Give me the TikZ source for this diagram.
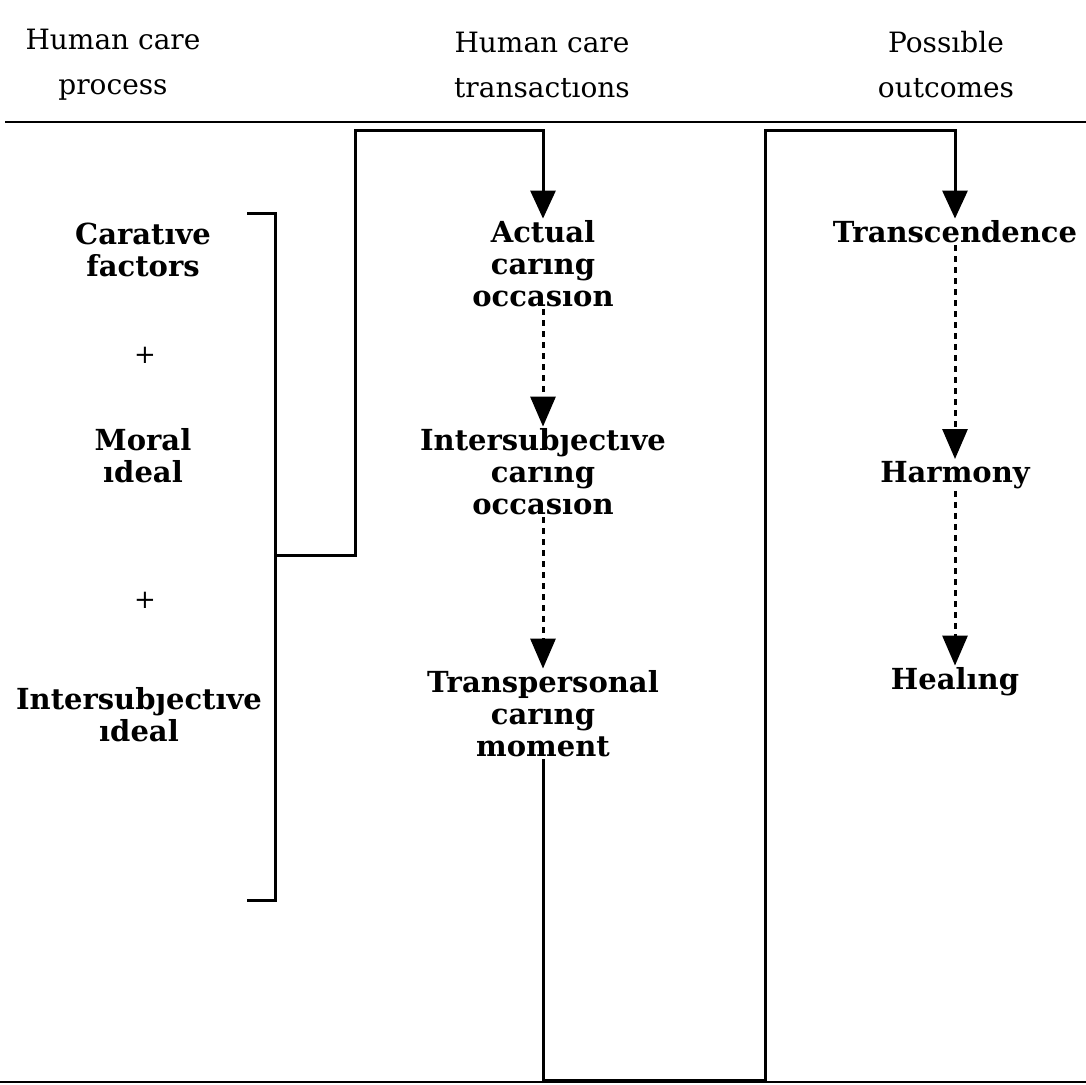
\documentclass[tikz,border=0pt]{standalone}
\usepackage{fontspec}
\setmainfont{DejaVu Serif}
\usetikzlibrary{arrows.meta}
\begin{document}
\begin{tikzpicture}[x=1pt,y=-1pt,
  hdr/.style={align=center, font=\fontsize{28}{45}\selectfont, inner sep=0pt},
  lbl/.style={align=center, font=\bfseries\fontsize{29}{32}\selectfont, inner sep=2pt},
  plus/.style={font=\fontsize{26}{28}\selectfont, inner sep=0pt},
  ln/.style={line width=3pt},
  arr/.style={line width=3pt, -{Triangle[length=28pt,width=25pt]}},
  darr/.style={line width=3pt, dash pattern=on 6pt off 5pt, -{Triangle[length=30pt,width=25pt]}}]
\useasboundingbox (0,0) rectangle (1086,1084);
% headers
\node[hdr] (h1) at (113,65) {Human care\\process};
\node[hdr] (h2) at (542,65) {Human care\\transactıons};
\node[hdr] (h3) at (946,65) {Possıble\\outcomes};
\coordinate (rl) at (5,122);
\coordinate (rr) at (1086,122);
\draw[line width=2.5pt] (rl) -- (rr);
% left column
\node[lbl] (c1) at (143,250) {Caratıve\\factors};
\node[plus] (p1) at (145,355) {+};
\node[lbl] (c2) at (143,456) {Moral\\ıdeal};
\node[plus] (p2) at (145,600) {+};
\node[lbl] (c3) at (139,715) {Intersubȷectıve\\ıdeal};
% middle column
\node[lbl] (m1) at (543,264) {Actual\\carıng\\occasıon};
\node[lbl] (m2) at (543,472) {Intersubȷectıve\\carıng\\occasıon};
\node[lbl] (m3) at (543,714) {Transpersonal\\carıng\\moment};
% right column
\node[lbl] (r1) at (955,232) {Transcendence};
\node[lbl] (r2) at (955,475) {Harmony};
\node[lbl] (r3) at (955,682) {Healıng};
% bracket
\coordinate (bt) at (247,213);
\coordinate (btc) at (275,213);
\coordinate (bbc) at (275,900);
\coordinate (bb) at (247,900);
\coordinate (bm) at (275,555);
\coordinate (k1) at (355,555);
\coordinate (k2) at (355,130);
\draw[ln] (bt) -- (btc) -- (bbc) -- (bb);
\draw[arr] (bm) -- (k1) -- (k2) -| (m1.north);
% loop to outcomes
\coordinate (lb) at (543,1080);
\coordinate (rb) at (765,1080);
\coordinate (rt) at (765,130);
\draw[arr] (m3.south) -- (lb) -- (rb) -- (rt) -| (r1.north);
\coordinate (bl) at (0,1082);
\coordinate (br) at (1086,1082);
\draw[line width=1.5pt] (bl) -- (br);
% dashed arrows
\draw[darr] (m1.south) -- (m2.north);
\draw[darr] (m2.south) -- (m3.north);
\draw[darr] (r1.south) -- (r2.north);
\draw[darr] (r2.south) -- (r3.north);
\end{tikzpicture}
\end{document}
